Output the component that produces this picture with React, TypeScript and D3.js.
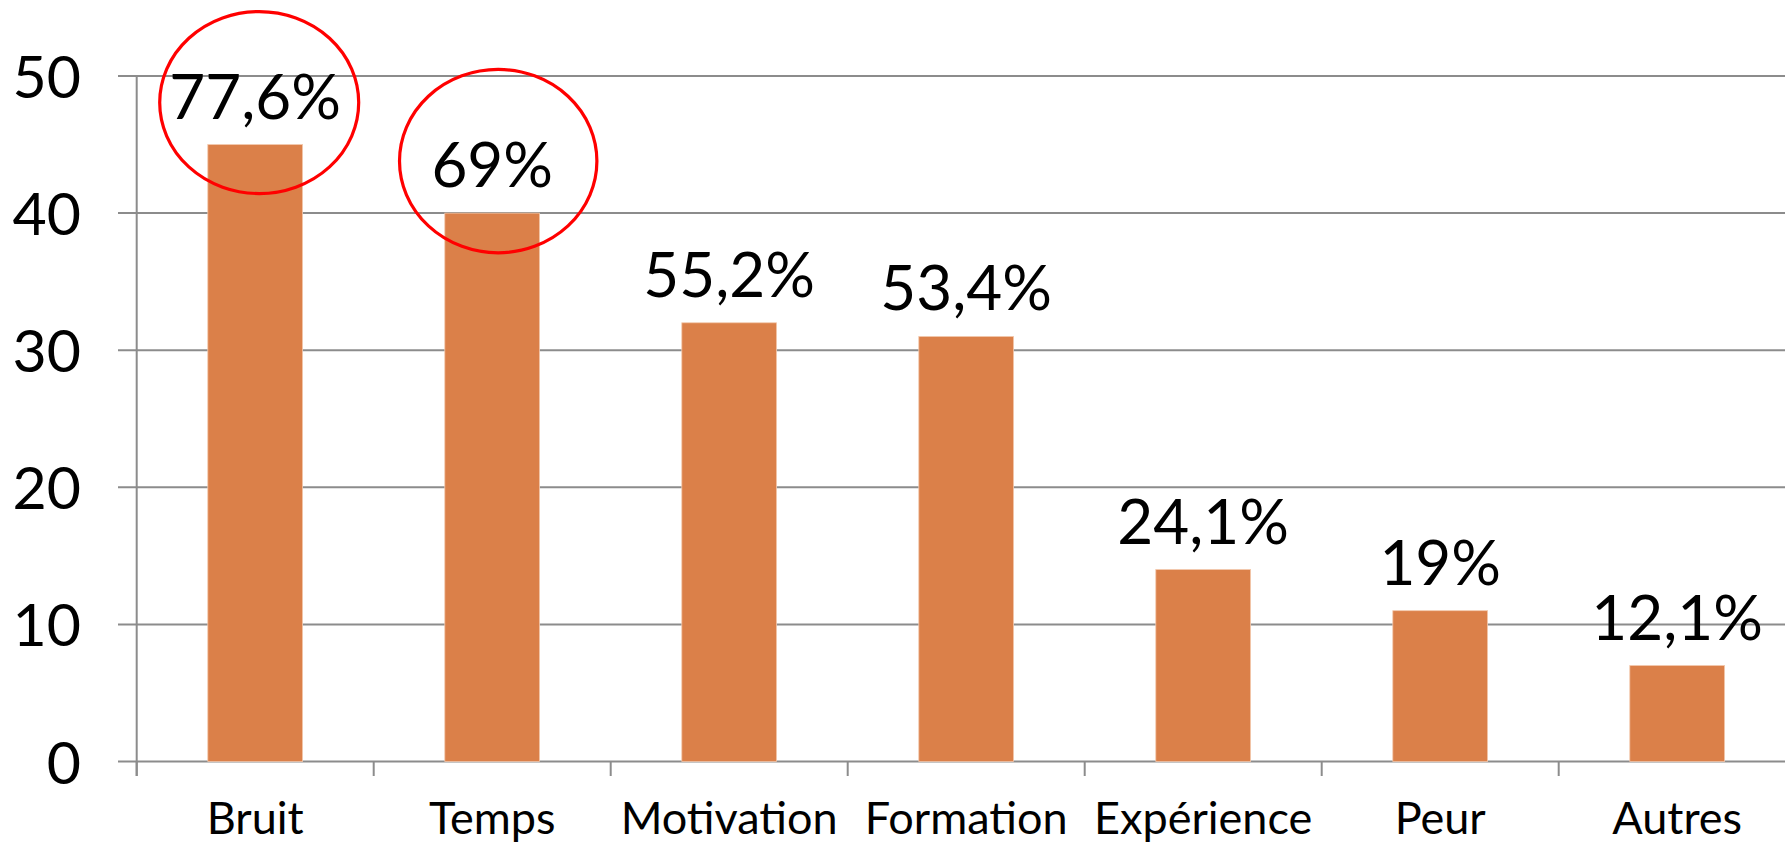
import React from "react";
import * as d3 from "d3";

const categories = ["Bruit", "Temps", "Motivation", "Formation", "Expérience", "Peur", "Autres"];
const values = [45, 40, 32, 31, 14, 11, 7];
const valueLabels = ["77,6%", "69%", "55,2%", "53,4%", "24,1%", "19%", "12,1%"];
const yTicks = [0, 10, 20, 30, 40, 50];
const highlighted = ["Bruit", "Temps"];

const W = 1785;
const H = 846;
const FONT = "Lato, 'Open Sans', sans-serif";
const GRID = "#8c8c8c";
const BAR = "#DB8049";

export default function App() {
  const x0 = 136.7;
  const step = 237;
  const x = d3
    .scaleBand<string>()
    .domain(categories)
    .range([x0, x0 + step * categories.length])
    .paddingInner(0.6)
    .paddingOuter(0.3);
  const y = d3.scaleLinear().domain([0, 50]).range([761.5, 76]);
  const s = x.step();
  const catTicks = d3.range(categories.length + 1).map((k) => x0 + k * s);
  const annot: Record<string, { dx: number; dy: number; rx: number; ry: number }> = {
    Bruit: { dx: 4, dy: -42, rx: 99.5, ry: 91 },
    Temps: { dx: 6, dy: -52, rx: 98.7, ry: 91.7 },
  };

  return (
    <div style={{ position: "absolute", left: 0, top: 0, width: W, height: H, overflow: "hidden", background: "#fff" }}>
      <svg width={W} height={H} style={{ display: "block" }} fontFamily={FONT}>
        <rect x={0} y={0} width={W} height={H} fill="#fff" />
        {yTicks.map((t) => (
          <g key={t}>
            <line x1={118} x2={W} y1={y(t)} y2={y(t)} stroke={GRID} strokeWidth={2} />
            <text x={81} y={y(t) + 22} textAnchor="end" fontSize={59} fill="#000">
              {t}
            </text>
          </g>
        ))}
        <line x1={x0} x2={x0} y1={y(50)} y2={776} stroke={GRID} strokeWidth={2} />
        {catTicks.map((tx, i) => (
          <line key={i} x1={tx} x2={tx} y1={y(0)} y2={776} stroke={GRID} strokeWidth={2} />
        ))}
        {categories.map((c, i) => {
          const bx = x(c)!;
          const cx = bx + x.bandwidth() / 2;
          return (
            <g key={c}>
              <rect
                x={bx}
                y={y(values[i])}
                width={x.bandwidth()}
                height={y(0) - y(values[i])}
                fill={BAR}
                stroke="#f3c9ad"
                strokeWidth={0.8}
              />
              <text x={cx} y={y(values[i]) - 26} textAnchor="middle" fontSize={62} fill="#000">
                {valueLabels[i]}
              </text>
              <text x={cx} y={834} textAnchor="middle" fontSize={45} fill="#000">
                {c}
              </text>
            </g>
          );
        })}
        {highlighted.map((c) => {
          const i = categories.indexOf(c);
          const a = annot[c];
          const cx = x(c)! + x.bandwidth() / 2 + a.dx;
          const cy = y(values[i]) + a.dy;
          return <ellipse key={c} cx={cx} cy={cy} rx={a.rx} ry={a.ry} fill="none" stroke="#ff0000" strokeWidth={3.2} />;
        })}
      </svg>
    </div>
  );
}
